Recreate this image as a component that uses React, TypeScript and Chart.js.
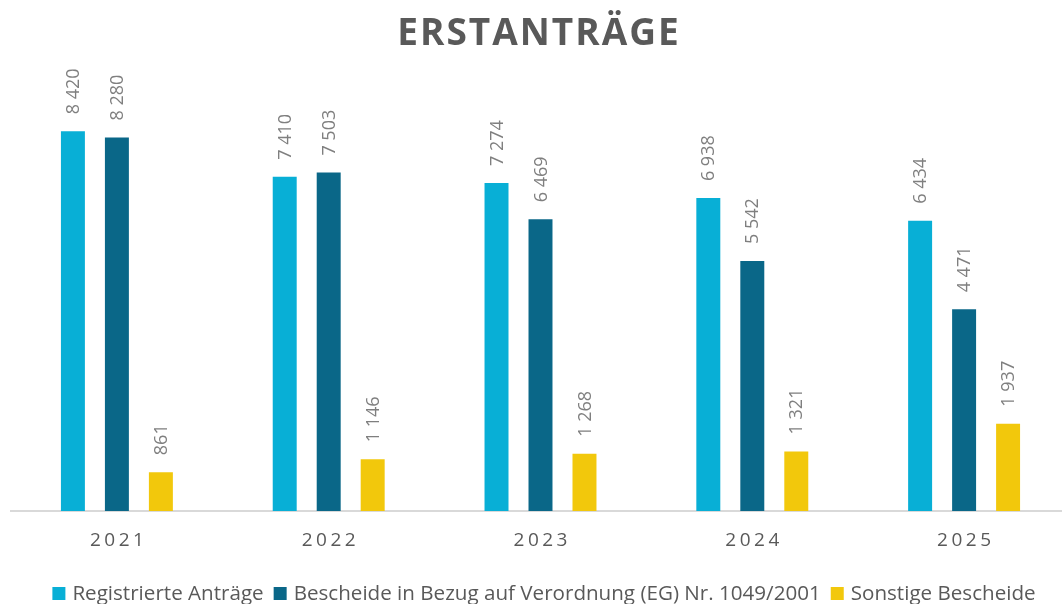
import React, { useEffect, useRef } from 'react';
import { Chart, registerables } from 'chart.js';

Chart.register(...registerables);

const TITLE = 'ERSTANTRÄGE';
const YEARS = ['2021', '2022', '2023', '2024', '2025'];
const REGISTRIERTE = [8420, 7410, 7274, 6938, 6434];
const BESCHEIDE_EG = [8280, 7503, 6469, 5542, 4471];
const SONSTIGE = [861, 1146, 1268, 1321, 1937];
const SERIES_NAMES = [
  'Registrierte Anträge',
  'Bescheide in Bezug auf Verordnung (EG) Nr. 1049/2001',
  'Sonstige Bescheide',
];
const COLORS = ['#08AFD6', '#0A6788', '#F2C80C'];
const Y_MAX = 10000;

function fmt(n: number): string {
  return String(n).replace(/\B(?=(\d{3})+(?!\d))/g, ' ');
}

const customPlugin = {
  id: 'customDraw',
  afterDraw(chart: any) {
    const ctx = chart.ctx as CanvasRenderingContext2D;
    const area = chart.chartArea;
    // Title
    ctx.save();
    ctx.font = "bold 37px 'Open Sans'";
    ctx.fillStyle = '#595959';
    (ctx as any).letterSpacing = '2px';
    ctx.textAlign = 'left';
    ctx.textBaseline = 'alphabetic';
    const tw = ctx.measureText(TITLE).width - 2;
    ctx.fillText(TITLE, 538 - tw / 2, 45);
    ctx.restore();

    // X labels with letter spacing
    ctx.save();
    ctx.font = "19px 'Open Sans'";
    ctx.fillStyle = '#595959';
    (ctx as any).letterSpacing = '3.5px';
    ctx.textAlign = 'left';
    ctx.textBaseline = 'alphabetic';
    const xs = chart.scales.x;
    YEARS.forEach((y, i) => {
      const cx = xs.getPixelForValue(i);
      const w = ctx.measureText(y).width - 3.5;
      ctx.fillText(y, cx - w / 2, area.bottom + 35);
    });
    ctx.restore();

    // Data labels (rotated)
    chart.data.datasets.forEach((ds: any, i: number) => {
      const meta = chart.getDatasetMeta(i);
      meta.data.forEach((bar: any, j: number) => {
        ctx.save();
        ctx.font = "18px 'Open Sans'";
        ctx.fillStyle = '#7F7F7F';
        ctx.translate(bar.x, bar.y - 17);
        ctx.rotate(-Math.PI / 2);
        ctx.textAlign = 'left';
        ctx.textBaseline = 'middle';
        ctx.fillText(fmt(ds.data[j]), 0, 1);
        ctx.restore();
      });
    });

    // Legend
    ctx.save();
    ctx.font = "20.6px 'Open Sans'";
    ctx.textAlign = 'left';
    ctx.textBaseline = 'alphabetic';
    const box = 13;
    const gapBox = 7;
    const gapItem = 10;
    const widths = SERIES_NAMES.map((n) => ctx.measureText(n).width);
    const total = widths.reduce((a, w) => a + box + gapBox + w, 0) + gapItem * (SERIES_NAMES.length - 1);
    let x = 544 - total / 2;
    SERIES_NAMES.forEach((n, i) => {
      ctx.fillStyle = COLORS[i];
      ctx.fillRect(x, 587, box, box);
      x += box + gapBox;
      ctx.fillStyle = '#595959';
      ctx.fillText(n, x, 600);
      x += widths[i] + gapItem;
    });
    ctx.restore();
  },
};

export default function App() {
  const ref = useRef<HTMLCanvasElement | null>(null);
  useEffect(() => {
    if (!ref.current) return;
    const series = [REGISTRIERTE, BESCHEIDE_EG, SONSTIGE];
    const chart = new Chart(ref.current, {
      type: 'bar',
      data: {
        labels: YEARS,
        datasets: series.map((d, i) => ({
          label: SERIES_NAMES[i],
          data: d,
          backgroundColor: COLORS[i],
          borderWidth: 0,
          categoryPercentage: 0.623,
          barPercentage: 0.545,
        })),
      },
      options: {
        animation: false,
        responsive: true,
        maintainAspectRatio: false,
        layout: { padding: { top: 60, left: 11, right: 0, bottom: 0 } },
        scales: {
          x: {
            grid: { display: false, drawTicks: false },
            border: { display: true, color: '#D9D9D9', width: 2 },
            ticks: { color: 'rgba(0,0,0,0)', font: { size: 19 } },
            afterFit: (scale: any) => {
              scale.height = 93;
            },
          },
          y: { display: false, min: 0, max: Y_MAX },
        },
        plugins: {
          title: { display: false },
          tooltip: { enabled: false },
          legend: { display: false },
        },
      },
      plugins: [customPlugin],
    });
    return () => chart.destroy();
  }, []);
  return (
    <div style={{ position: 'absolute', left: 0, top: 0, width: 1062, height: 604, overflow: 'hidden', background: '#fff' }}>
      <div style={{ position: 'relative', width: 1070, height: 604 }}>
        <canvas ref={ref} />
      </div>
    </div>
  );
}
